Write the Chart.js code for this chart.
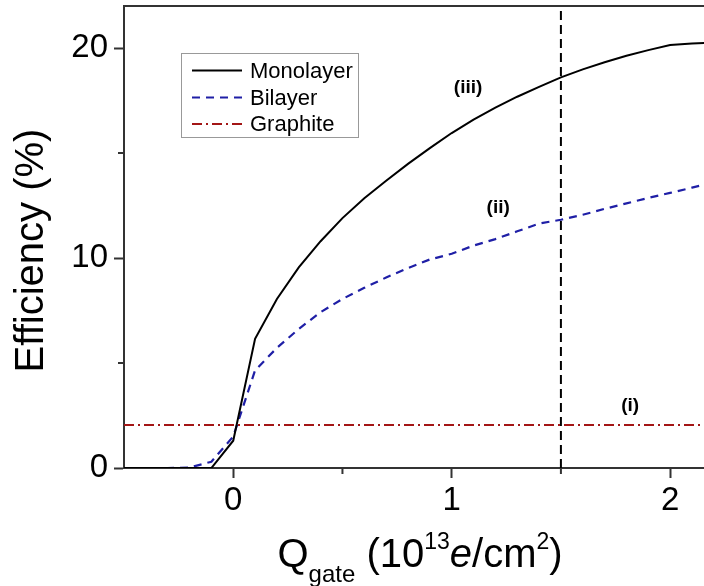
<!DOCTYPE html>
<html><head><meta charset="utf-8">
<script src="https://cdn.jsdelivr.net/npm/chart.js@4/dist/chart.umd.min.js"></script>
<style>html,body{margin:0;padding:0;background:#fff}#wrap{width:704px;height:586px;position:relative}</style>
</head><body><div id="wrap"><canvas id="c" width="704" height="586"></canvas></div>
<script>
// ---- data ----
const qGate = [-0.5,-0.4,-0.3,-0.2,-0.1,0,0.1,0.2,0.3,0.4,0.5,0.6,0.7,0.8,0.9,1.0,1.1,1.2,1.3,1.4,1.5,1.6,1.7,1.8,1.9,2.0,2.1,2.2];
const monolayer = [0,0,0,0,0,1.3,6.15,8.05,9.55,10.8,11.9,12.85,13.68,14.48,15.23,15.95,16.59,17.16,17.68,18.15,18.6,18.98,19.32,19.63,19.9,20.14,20.21,20.27];
const bilayer = [0,0,0,0.02,0.3,1.5,4.65,5.72,6.62,7.42,8.05,8.58,9.07,9.52,9.93,10.2,10.59,10.9,11.27,11.64,11.82,12.06,12.34,12.6,12.86,13.1,13.35,13.6];
const graphiteX = [-0.5, 2.2];
const graphite = [2.05, 2.05];
const markerX = [1.5, 1.5];
const markerY = [0, 22];
const seriesNames = ['Monolayer','Bilayer','Graphite'];
const xMajorTicks = [0,1,2];
const xMinorTicks = [0.5,1.5];
const yMajorTicks = [0,10,20];
const yMinorTicks = [5,15];
const noteLabels = ['(iii)','(ii)','(i)'];
const noteX = [1.075, 1.213, 1.817];
const noteY = [18.1, 12.39, 2.98];

const FONT = "'Liberation Sans', Arial, sans-serif";
const C_MONO = '#000000', C_BI = '#1f1fa6', C_GR = '#a31616';
const DASH_BI = [8,6], DASH_GR = [10,4,2,4], DASH_MK = [9,5];

const pts = (xs, ys) => xs.map((x,i)=>({x, y: ys[i]}));

const decor = {
  id: 'decor',
  afterDraw(chart) {
    const ctx = chart.ctx, a = chart.chartArea;
    const xs = chart.scales.x, ys = chart.scales.y;
    ctx.save();
    // top border
    ctx.strokeStyle = '#333'; ctx.lineWidth = 2;
    ctx.beginPath(); ctx.moveTo(a.left, a.top); ctx.lineTo(a.right, a.top); ctx.stroke();
    // minor ticks
    ctx.beginPath();
    xMinorTicks.forEach(v=>{ const p = xs.getPixelForValue(v); ctx.moveTo(p, a.bottom); ctx.lineTo(p, a.bottom+6); });
    yMinorTicks.forEach(v=>{ const p = ys.getPixelForValue(v); ctx.moveTo(a.left, p); ctx.lineTo(a.left-6, p); });
    ctx.stroke();
    // legend
    ctx.strokeStyle = '#999'; ctx.lineWidth = 1; ctx.setLineDash([]);
    ctx.strokeRect(181.5, 53.5, 177, 84);
    const styles = [[C_MONO,[]],[C_BI,DASH_BI],[C_GR,DASH_GR]];
    const rows = [70.5, 97.5, 124];
    ctx.font = '22px ' + FONT; ctx.textBaseline = 'middle'; ctx.textAlign = 'left';
    seriesNames.forEach((n,i)=>{
      ctx.strokeStyle = styles[i][0]; ctx.setLineDash(styles[i][1]); ctx.lineWidth = 2;
      ctx.beginPath(); ctx.moveTo(192, rows[i]); ctx.lineTo(242, rows[i]); ctx.stroke();
      ctx.fillStyle = '#000'; ctx.fillText(n, 250, rows[i]+1);
    });
    ctx.setLineDash([]);
    // notes
    ctx.font = 'bold 19px ' + FONT; ctx.textAlign = 'center'; ctx.textBaseline = 'middle'; ctx.fillStyle = '#000';
    noteLabels.forEach((t,i)=> ctx.fillText(t, xs.getPixelForValue(noteX[i]), ys.getPixelForValue(noteY[i])));
    // y title
    ctx.save();
    ctx.translate(43, 250.5); ctx.rotate(-Math.PI/2);
    ctx.font = '40px ' + FONT; ctx.textAlign = 'center'; ctx.textBaseline = 'alphabetic';
    ctx.fillText('Efficiency (%)', 0, 0);
    ctx.restore();
    // x title with sub/superscripts
    const parts = [
      {t:'Q', f:'40px '+FONT, dy:0},
      {t:'gate', f:'24px '+FONT, dy:15},
      {t:' (10', f:'40px '+FONT, dy:0},
      {t:'13', f:'23px '+FONT, dy:-18},
      {t:'e', f:'italic 40px '+FONT, dy:0},
      {t:'/cm', f:'40px '+FONT, dy:0},
      {t:'2', f:'23px '+FONT, dy:-18},
      {t:')', f:'40px '+FONT, dy:0}
    ];
    let total = 0;
    parts.forEach(p=>{ ctx.font = p.f; p.w = ctx.measureText(p.t).width; total += p.w; });
    let x = 420 - total/2; const base = 567;
    ctx.textAlign = 'left'; ctx.textBaseline = 'alphabetic';
    parts.forEach(p=>{ ctx.font = p.f; ctx.fillText(p.t, x, base + p.dy); x += p.w; });
    ctx.restore();
  }
};

const tickFont = {family: FONT, size: 33};
new Chart(document.getElementById('c'), {
  type: 'line',
  data: {
    datasets: [
      {label: seriesNames[0], data: pts(qGate, monolayer), borderColor: C_MONO, borderWidth: 2, pointRadius: 0, tension: 0},
      {label: seriesNames[1], data: pts(qGate, bilayer), borderColor: C_BI, borderWidth: 2.2, borderDash: DASH_BI, pointRadius: 0, tension: 0},
      {label: seriesNames[2], data: pts(graphiteX, graphite), borderColor: C_GR, borderWidth: 2, borderDash: DASH_GR, pointRadius: 0},
      {label: 'marker', data: pts(markerX, markerY), borderColor: '#000', borderWidth: 2, borderDash: DASH_MK, pointRadius: 0}
    ]
  },
  options: {
    responsive: false, animation: false, devicePixelRatio: 1,
    layout: {padding: {top: 6, left: 0, right: 0, bottom: 0}},
    plugins: {legend: {display: false}, tooltip: {enabled: false}},
    scales: {
      x: {
        type: 'linear', min: -0.5, max: 2.155,
        afterBuildTicks: s => { s.ticks = xMajorTicks.map(v=>({value: v})); },
        afterFit: s => { s.height = 118; s.paddingLeft = 0; s.paddingRight = 0; },
        grid: {drawOnChartArea: false, drawTicks: true, tickLength: 10, tickColor: '#333', tickWidth: 2},
        border: {display: true, color: '#333', width: 2},
        ticks: {font: tickFont, color: '#000', padding: 3, maxRotation: 0, autoSkip: false}
      },
      y: {
        type: 'linear', min: 0, max: 22,
        afterBuildTicks: s => { s.ticks = yMajorTicks.map(v=>({value: v})); },
        afterFit: s => { s.width = 124; s.paddingTop = 0; s.paddingBottom = 0; },
        grid: {drawOnChartArea: false, drawTicks: true, tickLength: 10, tickColor: '#333', tickWidth: 2},
        border: {display: true, color: '#333', width: 2},
        ticks: {font: tickFont, color: '#000', padding: 6, autoSkip: false}
      }
    }
  },
  plugins: [decor]
});
</script></body></html>
